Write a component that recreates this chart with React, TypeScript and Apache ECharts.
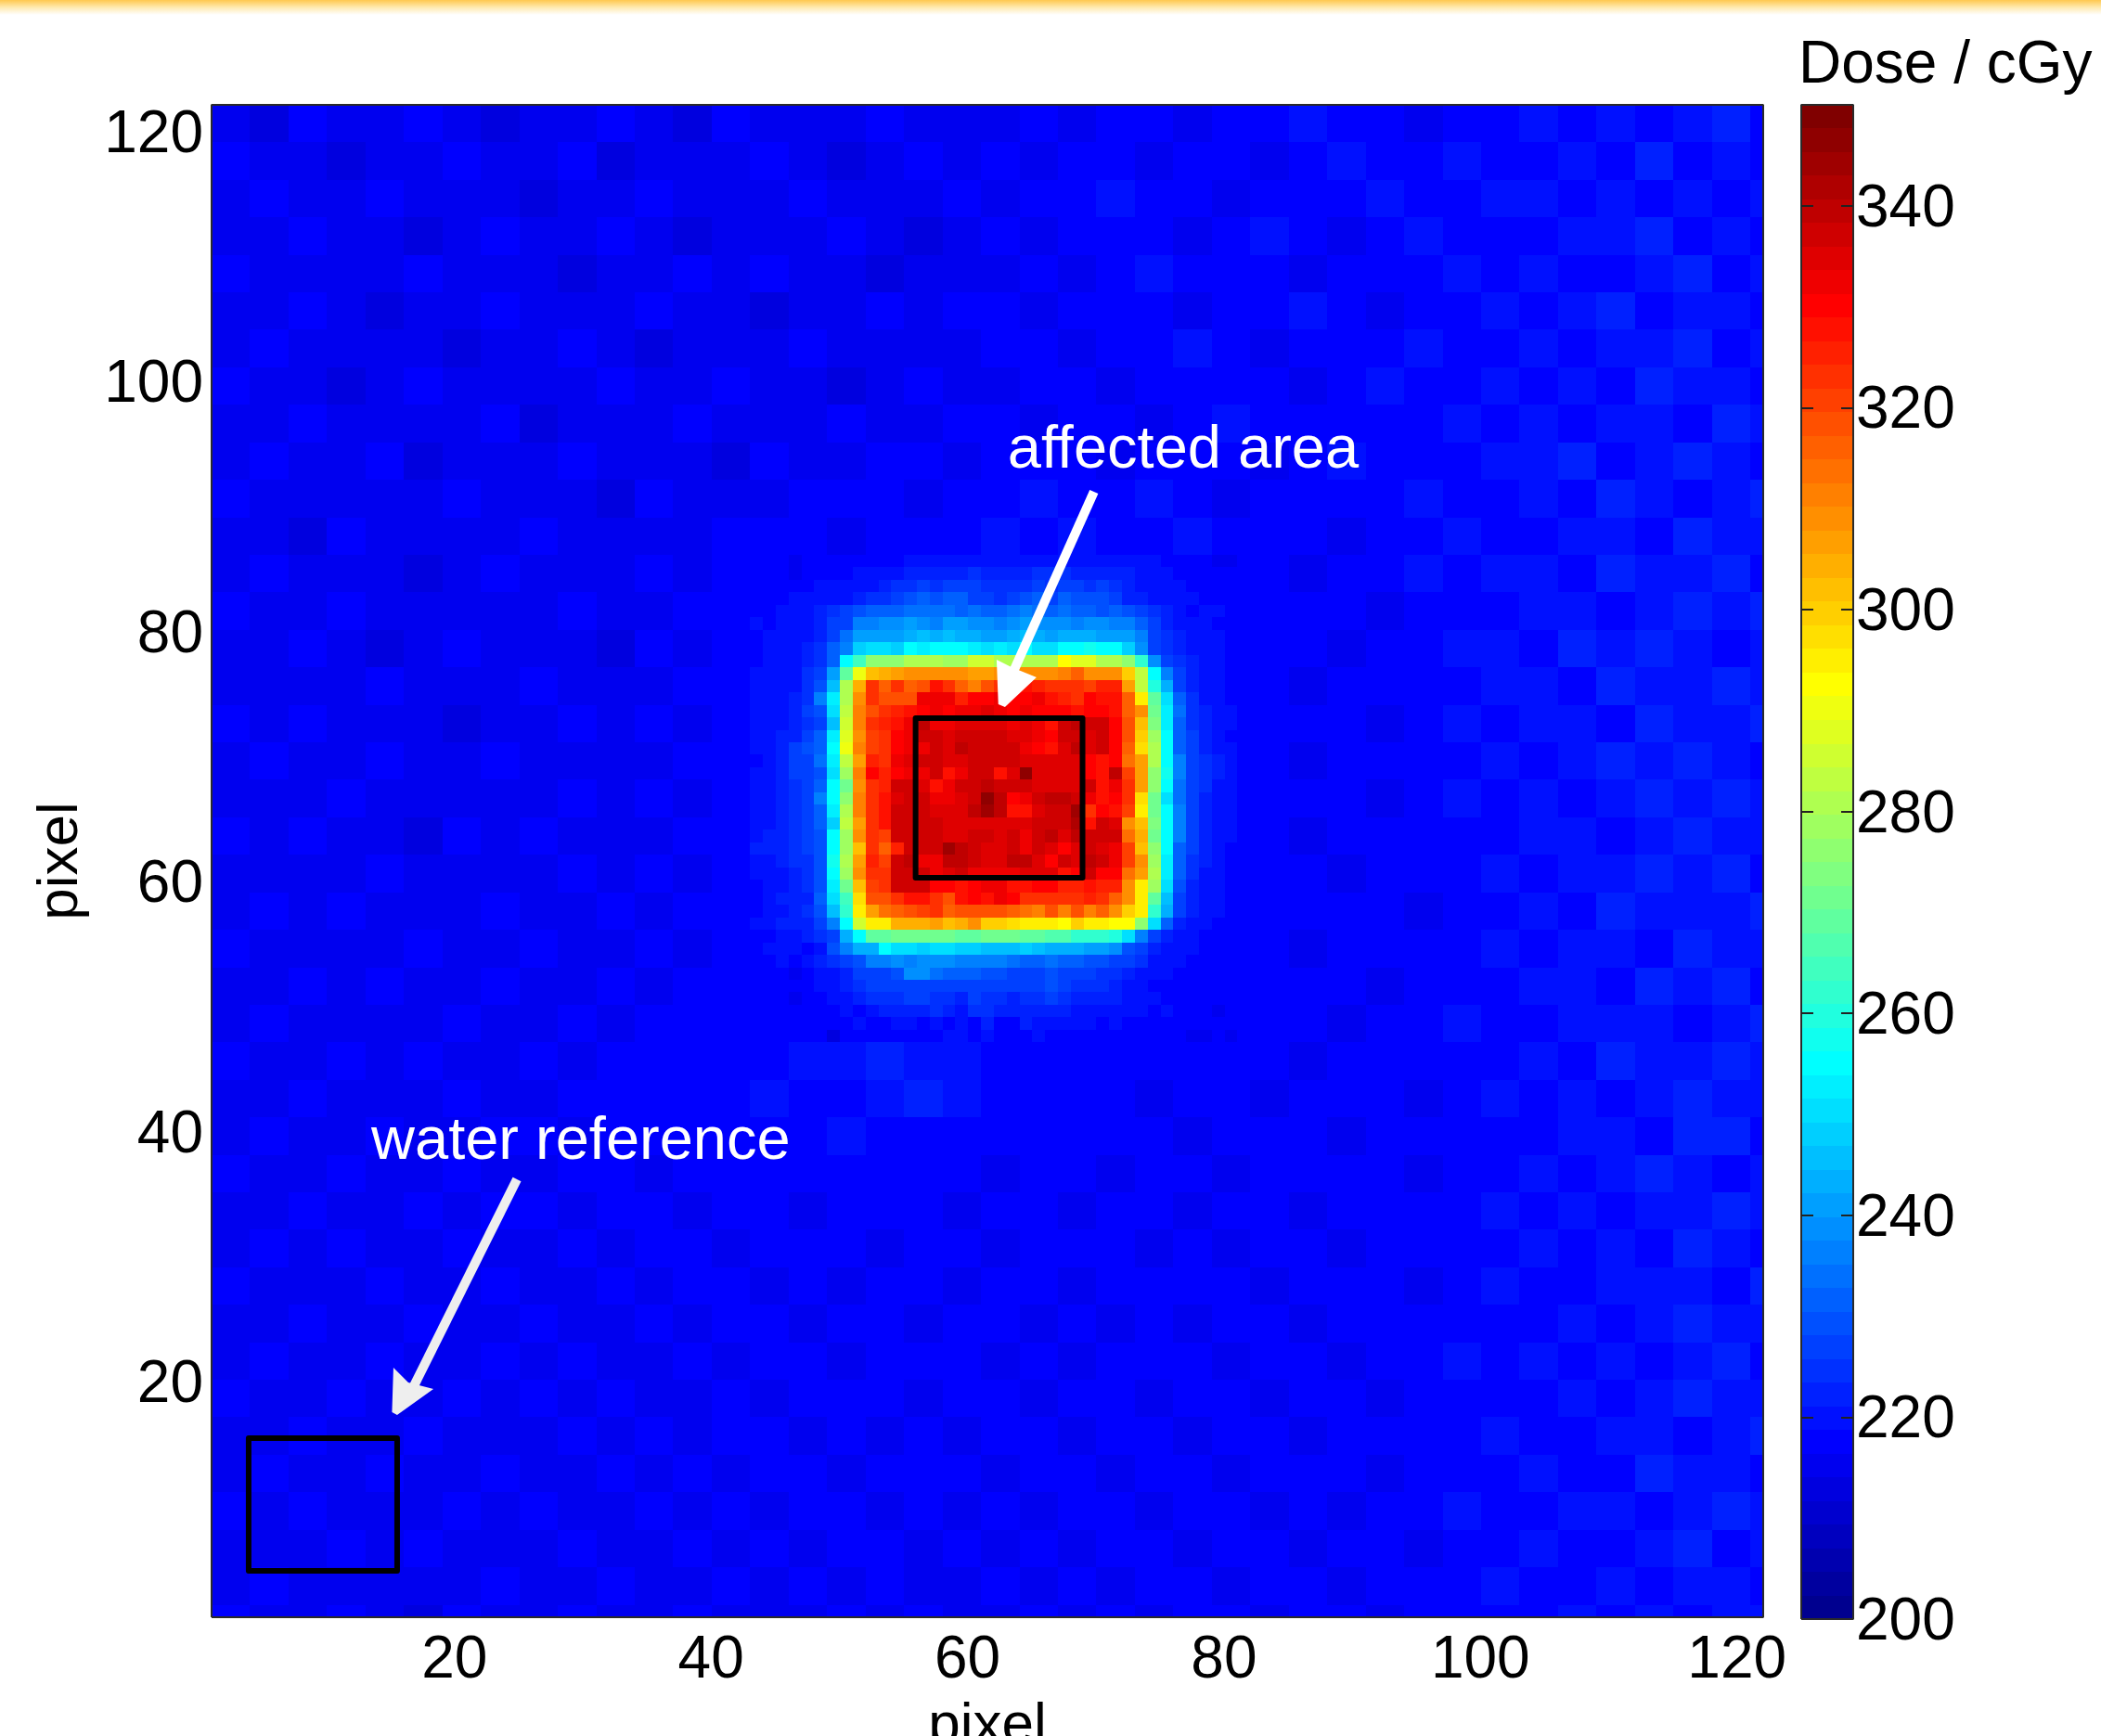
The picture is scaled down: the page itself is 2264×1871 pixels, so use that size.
import React, { useEffect, useRef } from "react";
import * as echarts from "echarts";

const FONT = '"Liberation Sans", Arial, sans-serif';
const xTickValues = [20, 40, 60, 80, 100, 120];
const yTickValues = [20, 40, 60, 80, 100, 120];
const colorbarLabelValues = [200, 220, 240, 260, 280, 300, 320, 340];
const colorbarTickValues = [220, 240, 260, 280, 300, 320, 340];
const DOSE_MIN = 200;
const DOSE_MAX = 350;
const X_MIN = 1.05;
const X_MAX = 122.05;
const Y_MIN = 1.15;
const Y_MAX = 122.15;
const CELL_COUNT = 121;
const BLOCK = 3;

// Background dose, read per 3x3 pixel block, top row first.
const backgroundBlocks = [
  [215,213,217,215,215,217,215,213,215,215,217,215,213,217,215,215,215,217,215,215,215,217,215,217,217,215,217,217,220,217,217,215,217,217,220,217,220,217,220,222,217],
  [217,215,215,213,215,215,217,215,215,217,213,215,215,215,217,215,213,215,217,215,217,215,217,217,215,217,217,215,217,220,217,217,220,217,217,220,217,222,217,220,217],
  [215,217,215,215,217,215,215,215,213,215,215,217,215,215,215,217,215,215,215,217,215,217,217,220,217,217,215,217,217,217,220,217,217,220,220,217,220,217,220,217,220],
  [215,215,217,215,215,213,215,217,215,215,217,215,213,215,215,215,217,215,213,215,217,215,217,217,217,215,217,220,217,215,217,220,217,217,217,220,220,222,217,220,217],
  [217,215,215,215,215,217,215,215,215,213,215,215,217,215,217,215,215,213,215,215,215,217,215,217,220,217,217,217,215,217,217,217,220,217,220,217,217,220,222,217,220],
  [215,215,217,215,213,215,215,217,215,215,215,217,215,215,213,215,215,217,215,217,217,215,217,217,217,215,217,217,220,217,215,217,217,220,217,220,222,217,220,220,217],
  [215,217,215,215,215,215,213,215,215,217,215,213,215,215,215,217,215,215,215,215,217,217,215,217,217,220,217,215,217,217,217,220,217,217,220,217,220,220,222,217,220],
  [217,215,215,213,215,217,215,215,215,215,217,215,215,217,215,215,213,215,217,215,215,217,217,215,217,217,217,217,215,217,220,217,217,220,217,220,217,222,220,220,217],
  [215,215,217,215,215,215,215,217,213,215,215,215,217,215,215,215,217,215,215,217,217,215,217,217,215,217,220,217,217,217,217,217,220,217,220,217,220,220,217,222,220],
  [215,217,215,215,217,213,215,215,215,217,215,215,215,213,217,215,215,217,217,215,217,217,217,215,217,217,217,215,217,220,217,217,217,220,220,222,217,220,222,220,217],
  [217,215,215,215,215,215,217,215,215,215,213,217,215,215,215,217,217,217,215,217,217,220,217,217,220,217,215,217,217,217,217,220,217,217,220,217,222,220,217,220,222],
  [215,215,213,217,215,215,215,215,217,215,215,215,215,217,217,217,215,217,217,217,220,217,220,217,217,220,217,217,217,215,217,217,220,217,217,220,220,217,222,220,220],
  [215,217,215,215,215,213,215,217,215,215,215,217,215,217,217,217,217,217,217,217,217,217,217,217,217,217,217,217,215,217,217,220,217,220,220,217,222,220,220,222,217],
  [217,215,215,217,215,215,215,215,215,217,215,215,217,217,217,217,217,217,217,217,217,217,217,217,217,217,217,217,217,217,215,217,217,217,220,220,217,220,222,220,222],
  [215,215,217,215,213,215,217,215,215,215,213,217,215,217,217,217,217,217,217,217,217,217,217,217,217,217,217,217,217,215,217,217,220,220,217,222,220,222,220,217,220],
  [215,215,215,215,217,215,215,215,217,215,215,215,217,217,217,217,217,217,217,217,217,217,217,217,217,217,217,217,215,217,217,217,217,220,220,217,222,220,220,222,220],
  [217,215,217,215,215,215,213,215,215,217,215,217,215,217,217,217,217,217,217,217,217,217,217,217,217,217,217,217,217,217,215,217,220,217,220,220,217,222,220,220,222],
  [215,217,215,215,217,215,215,217,215,215,215,215,217,217,217,217,217,217,217,217,217,217,217,217,217,217,217,217,215,217,217,217,217,220,217,220,222,220,222,220,217],
  [215,215,215,217,215,215,215,215,215,217,215,217,215,217,217,217,217,217,217,217,217,217,217,217,217,217,217,217,217,217,215,217,220,217,220,217,220,222,220,222,220],
  [217,215,217,215,215,213,217,215,217,215,215,215,217,217,217,217,217,217,217,217,217,217,217,217,217,217,217,217,215,217,217,217,217,217,220,220,217,220,222,220,220],
  [215,215,215,215,217,215,215,215,215,217,215,217,215,217,217,217,217,217,217,217,217,217,217,217,217,217,217,217,217,215,217,217,217,220,217,220,220,222,220,222,217],
  [215,217,215,217,215,215,215,217,215,215,217,215,217,217,217,217,217,217,217,217,217,217,217,217,217,217,217,217,217,217,217,215,217,217,220,217,222,220,220,220,222],
  [217,215,215,215,215,217,215,215,217,215,215,217,215,217,217,217,217,217,217,217,217,217,217,217,217,217,217,217,215,217,217,217,217,220,217,220,220,217,222,220,220],
  [215,215,217,215,217,215,215,217,215,215,217,215,217,217,217,217,217,217,217,217,217,217,217,217,217,217,217,217,217,217,215,217,217,217,220,220,217,222,220,222,217],
  [215,217,215,215,215,215,217,215,215,217,215,217,217,217,217,217,217,217,217,217,217,217,217,217,217,217,217,217,217,215,217,217,220,217,217,220,220,220,217,220,222],
  [217,215,215,217,215,217,215,215,217,215,217,217,217,217,217,220,220,222,220,220,217,217,217,217,217,217,217,217,215,217,217,217,217,217,220,217,222,220,220,222,220],
  [215,215,217,215,215,215,217,215,215,217,217,217,217,217,220,217,217,220,222,220,217,217,217,217,215,217,217,215,217,217,217,215,217,220,217,220,217,220,222,220,220],
  [215,217,215,215,217,215,215,217,217,215,217,217,217,217,217,217,220,217,217,217,217,217,217,217,217,215,217,217,217,215,217,217,217,217,217,220,220,217,222,222,217],
  [217,215,215,217,215,215,217,215,215,217,217,215,217,217,217,217,217,217,217,217,215,217,217,215,217,217,215,217,217,217,217,215,217,217,220,217,220,222,220,217,220],
  [215,215,217,215,215,217,215,217,217,215,217,217,215,217,217,215,217,217,217,215,217,217,215,217,217,215,217,217,215,217,217,217,217,220,217,220,217,220,220,222,220],
  [215,217,215,217,215,215,217,215,215,217,215,217,217,215,217,217,217,215,217,217,215,217,217,217,215,217,215,217,217,215,217,217,217,217,220,217,220,217,222,220,217],
  [217,215,215,215,217,215,215,217,215,215,217,215,217,217,215,217,215,217,217,215,217,217,215,217,217,217,217,215,217,217,217,215,217,220,217,217,220,220,220,217,222],
  [215,215,217,215,215,217,215,215,217,215,215,217,215,217,217,215,217,217,215,217,217,215,217,215,217,215,217,217,215,217,217,217,217,217,217,220,217,220,222,220,220],
  [215,217,215,215,217,215,215,217,215,217,215,215,217,215,217,217,215,217,217,217,215,217,215,217,217,217,215,217,217,215,217,217,220,217,220,217,220,217,220,222,217],
  [217,215,215,217,215,215,217,215,217,215,217,215,215,217,215,217,217,217,215,217,217,215,217,217,215,217,217,215,217,217,215,217,217,217,217,220,217,220,222,220,220],
  [215,215,217,215,215,217,215,215,215,217,215,217,215,217,217,215,217,215,217,215,217,217,215,217,217,215,217,217,215,217,217,217,217,220,217,217,220,220,217,220,222],
  [215,217,215,215,217,215,215,217,215,215,217,215,217,215,217,217,215,217,217,217,215,217,217,215,217,217,215,217,217,217,215,217,217,217,220,217,217,222,220,220,217],
  [217,215,217,215,215,215,217,215,217,215,215,217,215,217,215,217,217,215,217,215,217,215,217,217,215,217,217,215,217,215,217,217,220,217,217,220,220,217,220,222,220],
  [215,215,215,217,215,217,215,215,215,217,215,215,217,215,217,215,217,217,215,217,215,217,215,217,217,215,217,217,215,217,217,215,217,217,220,217,217,220,222,217,220],
  [215,217,215,215,215,215,215,217,215,215,217,215,215,217,215,217,215,217,215,215,217,215,217,215,217,217,215,217,217,215,217,217,217,220,217,217,220,217,220,220,217],
  [217,215,215,217,215,213,217,215,215,217,215,215,217,215,215,215,217,215,217,215,215,217,215,217,215,217,217,215,217,217,215,217,217,217,217,220,217,220,217,220,220],
];

// Per-pixel dose of the irradiated region, top row first.
const regionFirstColumn = 42;
const regionFirstRow = 36;
const regionRows = [
  [217,217,218,216,217,217,217,218,217,218,218,218,219,219,219,220,220,221,221,219,219,220,220,219,221,221,221,220,220,219,219,219,218,218,217,217,216,216],
  [217,218,217,216,218,218,218,218,219,220,219,220,222,222,222,223,223,224,223,222,222,222,224,224,224,223,222,223,222,222,221,220,219,218,217,217,217,217],
  [218,217,218,218,218,219,219,220,220,221,223,224,225,226,225,228,228,226,225,224,224,225,226,225,226,227,224,226,224,222,221,220,219,219,218,218,217,217],
  [218,218,218,219,219,220,220,221,223,225,224,226,229,231,230,231,231,227,227,225,227,229,231,227,231,230,229,229,227,223,222,221,219,219,219,218,218,218],
  [218,218,219,220,220,222,224,226,230,232,232,232,234,235,233,234,232,233,232,232,233,236,234,232,234,232,232,230,232,230,226,224,222,220,218,219,219,218],
  [219,218,219,220,220,222,226,228,236,236,238,238,240,238,236,240,240,238,238,236,238,240,239,238,238,236,238,238,236,236,232,228,222,220,220,219,218,218],
  [218,219,219,220,220,222,226,234,240,242,240,242,244,245,244,246,244,244,242,242,244,246,244,242,244,244,244,242,240,240,236,228,224,222,220,220,219,218],
  [218,219,219,220,222,224,232,236,248,250,250,248,254,252,254,256,254,252,250,252,250,254,250,250,254,256,258,256,254,248,238,228,224,222,220,220,219,218],
  [218,219,220,220,222,224,232,256,265,275,275,275,282,282,282,278,278,285,285,280,280,280,280,280,292,288,288,282,282,275,263,238,228,224,222,220,219,218],
  [219,220,220,221,224,226,240,268,290,302,304,306,308,308,308,310,310,306,306,308,310,308,308,310,312,316,310,310,308,300,284,256,236,226,222,220,219,218],
  [219,220,221,220,224,230,246,280,304,322,316,322,316,318,328,322,316,312,318,322,325,328,326,322,322,322,320,326,326,306,284,260,244,228,222,220,219,218],
  [220,219,220,222,224,236,252,282,308,324,318,318,318,332,332,332,326,330,330,332,330,330,332,328,326,322,330,328,328,316,296,268,250,232,224,221,219,218],
  [219,220,220,222,226,230,250,284,312,318,324,326,328,330,332,330,332,332,334,332,330,332,330,330,330,328,330,330,328,316,308,272,252,234,224,222,220,219],
  [219,220,221,222,224,228,246,286,312,322,326,328,332,340,332,332,334,334,334,334,332,334,332,328,336,340,336,338,330,318,302,274,252,232,224,222,220,219],
  [220,220,222,222,226,232,252,288,308,320,324,330,332,338,336,334,336,336,336,336,334,334,332,330,336,338,334,336,330,318,300,278,254,232,226,222,220,218],
  [219,221,222,228,230,232,254,290,312,320,322,330,332,332,336,334,340,336,336,336,336,332,330,328,334,340,334,338,330,316,298,280,254,232,226,222,221,219],
  [218,220,222,226,226,234,252,284,306,326,324,332,334,338,338,334,334,338,338,338,336,334,334,334,334,334,330,328,330,314,306,282,256,236,226,224,222,220],
  [220,220,222,226,226,230,250,278,312,330,326,330,332,332,336,328,332,338,338,328,334,346,334,334,334,334,330,328,340,320,306,276,258,236,226,224,222,220],
  [219,220,222,224,226,232,256,272,310,322,326,338,338,334,328,332,336,336,340,336,336,336,334,334,334,334,338,328,332,322,306,276,256,234,228,224,221,220],
  [219,220,222,224,226,236,254,276,312,322,328,334,336,336,332,332,334,338,346,340,330,332,338,340,340,336,332,328,330,324,298,272,250,234,226,222,221,219],
  [219,220,222,224,228,232,252,280,312,324,328,336,338,338,334,334,334,340,344,340,328,328,334,338,336,344,322,330,328,320,294,272,254,236,226,222,220,219],
  [220,221,222,224,226,232,248,284,306,324,328,336,338,338,336,334,334,334,334,334,334,334,336,338,336,342,328,336,334,310,302,274,256,236,226,222,220,219],
  [220,222,222,224,228,230,254,278,308,322,320,336,338,338,338,334,334,338,336,334,336,332,338,340,334,340,336,338,336,314,304,272,256,236,226,222,220,219],
  [222,222,222,224,226,230,256,278,302,324,316,326,338,336,338,344,340,336,334,334,336,332,336,334,330,334,336,334,332,320,302,276,254,232,226,222,220,218],
  [220,220,222,224,224,230,258,280,306,326,320,336,340,332,332,340,340,338,334,334,340,340,334,330,336,334,340,336,332,320,310,278,252,232,224,222,221,218],
  [220,220,220,222,224,230,254,278,308,322,322,336,338,338,332,334,336,332,332,332,332,334,334,334,328,330,336,330,330,314,306,280,252,232,224,220,220,218],
  [218,220,220,222,224,230,252,272,302,320,324,338,336,336,330,330,328,330,332,332,328,328,330,330,326,326,328,326,326,310,296,278,250,230,222,220,219,218],
  [218,220,222,222,222,232,250,264,298,318,318,324,328,328,322,318,328,330,328,332,330,322,322,322,322,322,326,324,316,310,294,268,246,228,222,220,219,218],
  [218,220,220,222,224,230,246,262,296,306,314,316,318,320,322,316,318,318,318,318,316,314,312,318,312,318,312,316,308,300,296,262,244,226,222,220,219,218],
  [219,220,222,222,222,226,236,254,286,296,296,304,304,304,306,302,304,308,300,300,298,296,296,296,292,300,296,294,292,292,276,250,232,222,220,219,218,218],
  [218,218,220,220,222,224,226,244,256,270,270,272,272,272,272,272,270,270,272,272,272,268,268,266,266,262,262,262,260,250,236,226,222,220,219,218,218,218],
  [218,219,219,220,218,220,230,236,244,244,254,250,250,248,250,250,248,248,246,246,246,248,246,244,244,244,240,240,238,230,226,222,220,219,219,218,217,217],
  [218,218,219,218,220,222,224,228,230,236,236,238,236,238,238,238,236,236,236,236,234,232,232,234,232,232,230,230,228,226,224,220,219,219,218,218,218,218],
  [217,217,218,216,218,220,220,222,226,228,228,230,238,238,234,232,232,232,230,230,228,228,228,230,228,226,226,224,224,222,220,219,219,218,218,217,217,217],
  [218,217,217,218,218,219,220,222,224,226,226,228,228,228,228,226,228,226,228,226,228,226,228,230,226,224,224,224,222,220,220,218,218,218,217,217,218,218],
  [218,217,218,216,218,218,220,220,222,224,224,224,226,226,224,224,222,226,224,224,222,224,224,226,224,222,222,222,222,220,219,219,218,217,218,218,218,217],
  [217,218,217,218,218,218,218,220,218,220,222,222,222,222,224,222,220,224,224,222,222,222,222,222,222,220,220,220,220,219,219,218,219,217,217,217,216,218],
  [218,217,218,217,217,218,217,218,220,218,218,220,220,218,220,218,220,218,222,218,218,222,220,220,220,220,220,218,220,218,218,218,218,217,217,217,218,217],
  [218,218,217,217,217,217,212,218,218,218,217,218,218,218,218,220,220,218,220,218,218,218,220,218,218,218,218,218,218,217,217,217,217,217,216,216,217,216],
];

// Annotations, in axis units.
const affectedBox = [[55.95, 60.32], [68.97, 60.32], [68.97, 73.09], [55.95, 73.09], [55.95, 60.32]];
const waterBox = [[3.94, 4.86], [15.52, 4.86], [15.52, 15.48], [3.94, 15.48], [3.94, 4.86]];
const affectedArrowShaft = [[69.86, 91.2], [63.4, 76.4]];
const affectedArrowHead = [[62.92, 73.98], [62.4, 74.2], [62.27, 77.76], [63.42, 77.17], [65.38, 76.35]];
const waterArrowShaft = [[24.86, 36.19], [16.8, 19.6]];
const waterArrowHead = [[15.52, 17.33], [15.12, 17.56], [15.23, 21.12], [16.39, 19.93], [18.35, 19.41]];
const annotationLabels = [
  { text: "affected area", x: 63.13, y: 93.28 },
  { text: "water reference", x: 13.5, y: 37.94 },
];

function jetPart(k: number) {
  if (k < 0 || k > 46) return 0;
  if (k < 16) return (k + 1) / 16;
  if (k < 31) return 1;
  return (47 - k) / 16;
}
function jetColor(level: number) {
  const r = Math.round(255 * jetPart(level - 24));
  const g = Math.round(255 * jetPart(level - 8));
  const b = Math.round(255 * jetPart(level + 8));
  return `rgb(${r},${g},${b})`;
}
function doseColor(v: number) {
  const level = Math.max(0, Math.min(63, Math.floor(((v - DOSE_MIN) / (DOSE_MAX - DOSE_MIN)) * 64)));
  return jetColor(level);
}

const cells: number[][] = [];
backgroundBlocks.forEach((row, r) =>
  row.forEach((v, c) => {
    const c0 = c * BLOCK;
    const c1 = Math.min(CELL_COUNT, c0 + BLOCK);
    const r0 = r * BLOCK;
    const r1 = Math.min(CELL_COUNT, r0 + BLOCK);
    cells.push([X_MIN + c0, X_MIN + c1, Y_MAX - r1, Y_MAX - r0, v]);
  })
);
regionRows.forEach((row, k) =>
  row.forEach((v, j) => {
    const c0 = regionFirstColumn + j;
    const r0 = regionFirstRow + k;
    cells.push([X_MIN + c0, X_MIN + c0 + 1, Y_MAX - r0 - 1, Y_MAX - r0, v]);
  })
);
const colorbarBands: number[][] = [];
for (let i = 0; i < 64; i++) {
  colorbarBands.push([
    DOSE_MIN + (i * (DOSE_MAX - DOSE_MIN)) / 64,
    DOSE_MIN + ((i + 1) * (DOSE_MAX - DOSE_MIN)) / 64,
    i,
  ]);
}

function frameSeries(xAxisIndex: number, yAxisIndex: number, x0: number, x1: number, y0: number, y1: number) {
  return {
    type: "line",
    xAxisIndex,
    yAxisIndex,
    clip: false,
    silent: true,
    symbol: "none",
    z: 6,
    lineStyle: { color: "#2a2a2a", width: 2 },
    data: [[x0, y0], [x1, y0], [x1, y1], [x0, y1], [x0, y0]],
  };
}
function boxSeries(points: number[][]) {
  return {
    type: "line",
    xAxisIndex: 0,
    yAxisIndex: 0,
    silent: true,
    symbol: "none",
    z: 5,
    lineStyle: { color: "#000", width: 6, join: "round", cap: "round" },
    data: points,
  };
}
function arrowSeries(shaft: number[][], head: number[][], color: string) {
  return {
    type: "custom",
    xAxisIndex: 0,
    yAxisIndex: 0,
    silent: true,
    z: 5,
    data: [[shaft[0][0], shaft[0][1]]],
    renderItem: (_p: any, api: any) => {
      const a = api.coord(shaft[0]);
      const b = api.coord(shaft[1]);
      return {
        type: "group",
        children: [
          { type: "line", shape: { x1: a[0], y1: a[1], x2: b[0], y2: b[1] }, style: { stroke: color, lineWidth: 10 } },
          { type: "polygon", shape: { points: head.map((p) => api.coord(p)) }, style: { fill: color } },
        ],
      };
    },
  };
}

export default function App() {
  const ref = useRef<HTMLDivElement>(null);
  useEffect(() => {
    document.body.style.margin = "0";
    const chart = echarts.init(ref.current!, undefined, { renderer: "svg" });
    const label = { color: "#000", fontSize: 64, fontFamily: FONT };
    const nameLabel = { color: "#000", fontSize: 62, fontFamily: FONT };
    const colorbarTick = { show: true, inside: true, length: 13, lineStyle: { color: "#222", width: 2 }, customValues: colorbarTickValues };
    chart.setOption({
      animation: false,
      backgroundColor: "#fff",
      textStyle: { fontFamily: FONT },
      graphic: [
        {
          type: "rect",
          shape: { x: 0, y: 0, width: 2264, height: 16 },
          style: {
            fill: new echarts.graphic.LinearGradient(0, 0, 0, 1, [
              { offset: 0, color: "#ffc850" },
              { offset: 0.5, color: "#ffeab0" },
              { offset: 1, color: "#ffffff" },
            ]),
          },
        },
        {
          type: "text",
          x: 1938,
          y: 67,
          style: { text: "Dose / cGy", fill: "#000", font: `64px ${FONT}`, align: "left", verticalAlign: "middle" },
        },
      ],
      grid: [
        { left: 228, top: 113, width: 1672, height: 1630, outerBoundsMode: "none" },
        { left: 1941, top: 113, width: 56, height: 1632, outerBoundsMode: "none" },
      ],
      xAxis: [
        {
          type: "value",
          gridIndex: 0,
          min: X_MIN,
          max: X_MAX,
          name: "pixel",
          nameLocation: "middle",
          nameGap: 82,
          nameTextStyle: nameLabel,
          splitLine: { show: false },
          axisLine: { show: false },
          axisTick: { show: false },
          axisLabel: { ...label, margin: 11, customValues: xTickValues },
        },
        { type: "value", gridIndex: 1, min: 0, max: 1, show: false },
      ],
      yAxis: [
        {
          type: "value",
          gridIndex: 0,
          min: Y_MIN,
          max: Y_MAX,
          name: "pixel",
          nameLocation: "middle",
          nameGap: 136,
          nameTextStyle: nameLabel,
          splitLine: { show: false },
          axisLine: { show: false },
          axisTick: { show: false },
          axisLabel: { ...label, margin: 9, customValues: yTickValues },
        },
        {
          type: "value",
          gridIndex: 1,
          position: "right",
          min: DOSE_MIN,
          max: DOSE_MAX,
          splitLine: { show: false },
          axisLine: { show: false, onZero: false },
          axisTick: colorbarTick,
          axisLabel: { ...label, margin: 3, customValues: colorbarLabelValues },
          z: 7,
        },
        {
          type: "value",
          gridIndex: 1,
          position: "left",
          min: DOSE_MIN,
          max: DOSE_MAX,
          splitLine: { show: false },
          axisLine: { show: false, onZero: false },
          axisLabel: { show: false },
          axisTick: colorbarTick,
          z: 7,
        },
      ],
      series: [
        {
          type: "custom",
          xAxisIndex: 0,
          yAxisIndex: 0,
          silent: true,
          progressive: 0,
          clip: true,
          z: 1,
          encode: { x: [0, 1], y: [2, 3] },
          data: cells,
          renderItem: (_p: any, api: any) => {
            const a = api.coord([api.value(0), api.value(3)]);
            const b = api.coord([api.value(1), api.value(2)]);
            const x = Math.round(a[0]);
            const y = Math.round(a[1]);
            return {
              type: "rect",
              shape: { x, y, width: Math.round(b[0]) - x, height: Math.round(b[1]) - y },
              style: { fill: doseColor(api.value(4)) },
            };
          },
        },
        {
          type: "custom",
          xAxisIndex: 1,
          yAxisIndex: 1,
          silent: true,
          progressive: 0,
          z: 1,
          encode: { y: [0, 1] },
          data: colorbarBands,
          renderItem: (_p: any, api: any) => {
            const a = api.coord([0, api.value(1)]);
            const b = api.coord([1, api.value(0)]);
            const y = Math.round(a[1]);
            return {
              type: "rect",
              shape: { x: a[0], y, width: b[0] - a[0], height: Math.round(b[1]) - y },
              style: { fill: jetColor(api.value(2)) },
            };
          },
        },
        {
          type: "line",
          xAxisIndex: 1,
          yAxisIndex: 2,
          silent: true,
          symbol: "none",
          lineStyle: { width: 0 },
          data: [],
        },
        boxSeries(affectedBox),
        boxSeries(waterBox),
        arrowSeries(affectedArrowShaft, affectedArrowHead, "#ffffff"),
        arrowSeries(waterArrowShaft, waterArrowHead, "#eeeeee"),
        {
          type: "custom",
          xAxisIndex: 0,
          yAxisIndex: 0,
          silent: true,
          z: 5,
          data: annotationLabels.map((d) => [d.x, d.y]),
          renderItem: (p: any, api: any) => {
            const c = api.coord([api.value(0), api.value(1)]);
            return {
              type: "text",
              x: c[0],
              y: c[1] + 12,
              style: {
                text: annotationLabels[p.dataIndex].text,
                fill: "#fff",
                font: `65px ${FONT}`,
                align: "left",
                verticalAlign: "bottom",
              },
            };
          },
        },
        frameSeries(0, 0, X_MIN, X_MAX, Y_MIN, Y_MAX),
        frameSeries(1, 1, 0, 1, DOSE_MIN, DOSE_MAX),
      ],
    });
    return () => chart.dispose();
  }, []);
  return <div ref={ref} style={{ width: 2264, height: 1871 }} />;
}
